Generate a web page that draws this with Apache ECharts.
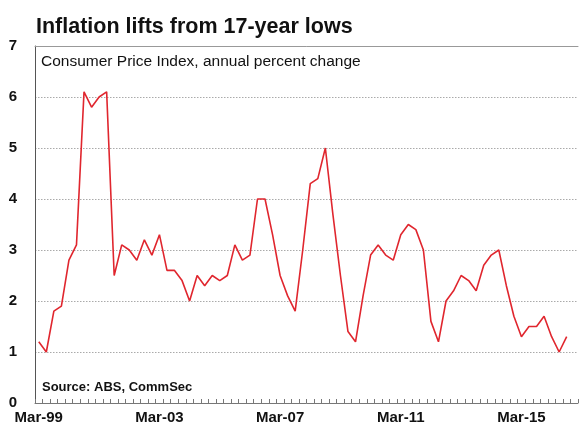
<!DOCTYPE html>
<html><head><meta charset="utf-8">
<script src="https://cdn.jsdelivr.net/npm/echarts@6/dist/echarts.min.js"></script>
<style>html,body{margin:0;padding:0;background:#fff}#c{width:579px;height:425px}</style>
</head><body><div id="c"></div>
<script>
var titleText = "Inflation lifts from 17-year lows";
var subtitleText = "Consumer Price Index, annual percent change";
var sourceText = "Source: ABS, CommSec";
var years = ["99","00","01","02","03","04","05","06","07","08","09","10","11","12","13","14","15","16"];
var quarters = ["Mar","Jun","Sep","Dec"];
var categories = [];
years.forEach(function(y){ quarters.forEach(function(q){ categories.push(q + "-" + y); }); });
var cpi = [1.2,1.0,1.8,1.9,2.8,3.1,6.1,5.8,6.0,6.1,
           2.5,3.1,3.0,2.8,3.2,2.9,3.3,2.6,2.6,2.4,
           2.0,2.5,2.3,2.5,2.4,2.5,3.1,2.8,2.9,4.0,
           4.0,3.3,2.5,2.1,1.8,3.0,4.3,4.4,5.0,3.7,
           2.5,1.4,1.2,2.1,2.9,3.1,2.9,2.8,3.3,3.5,
           3.4,3.0,1.6,1.2,2.0,2.2,2.5,2.4,2.2,2.7,
           2.9,3.0,2.3,1.7,1.3,1.5,1.5,1.7,1.3,1.0,1.3];
var yTicks = [0,1,2,3,4,5,6,7];

var chart = echarts.init(document.getElementById('c'), null, {renderer:'canvas'});
var FF = '"Liberation Sans", Arial, sans-serif';
chart.setOption({
  animation: false,
  backgroundColor: '#fff',
  title: [
    {text: titleText, left: 31, top: 11, textStyle:{fontFamily:FF, fontSize:21.5, fontWeight:'bold', color:'#111'}},
    {text: subtitleText, left: 36, top: 49, textStyle:{fontFamily:FF, fontSize:15.5, fontWeight:'normal', color:'#111'}},
    {text: sourceText, left: 37, top: 376, textStyle:{fontFamily:FF, fontSize:13, fontWeight:'bold', color:'#111'}}
  ],
  grid: {left: 35, right: 1, top: 46, bottom: 21, containLabel: false},
  xAxis: [{
    type: 'category', data: categories, boundaryGap: true,
    axisLine: {show: true, lineStyle: {color: '#777', width: 1}},
    axisTick: {show: true, inside: true, length: 4, interval: 0, lineStyle:{color:'#777'}},
    axisLabel: {interval: 15, margin: 7, fontFamily: FF, fontSize: 15, fontWeight: 'bold', color: '#111'},
    splitLine: {show: false}
  },{
    type: 'category', data: categories, position: 'top', boundaryGap: true,
    axisLine: {show: true, lineStyle: {color: '#999', width: 1}},
    axisTick: {show:false}, axisLabel: {show:false}, splitLine:{show:false}
  }],
  yAxis: {
    type: 'value', min: yTicks[0], max: yTicks[yTicks.length-1], interval: 1,
    axisLine: {show: true, lineStyle: {color: '#555', width: 1}},
    axisTick: {show: false},
    axisLabel: {margin: 18, fontFamily: FF, fontSize: 15, fontWeight: 'bold', color: '#111'},
    splitLine: {show: true, lineStyle: {color: '#aaa', type: [1.5, 1.5], width: 1}}
  },
  series: [{
    type: 'line', data: cpi, xAxisIndex: 0, symbol: 'none',
    lineStyle: {color: '#e0262e', width: 1.6}
  }]
});
</script>
</body></html>
